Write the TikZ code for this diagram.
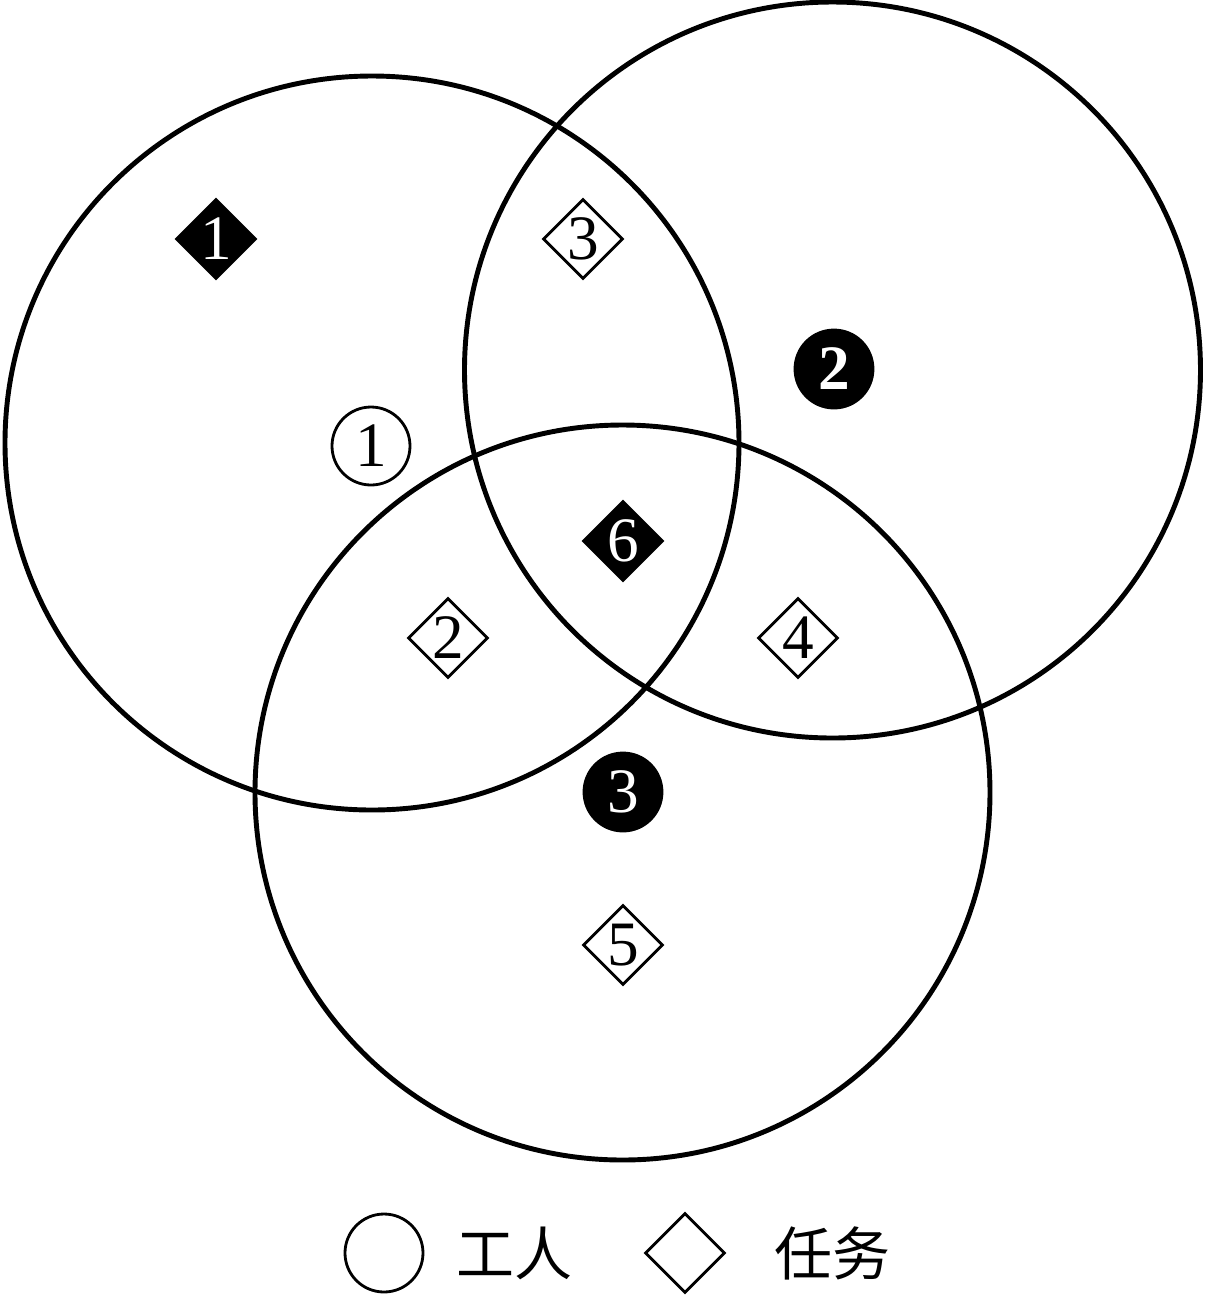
\documentclass[tikz,border=0pt]{standalone}
\usepackage{fontspec}
\setmainfont{Liberation Serif}
\newfontfamily\cjk{Noto Sans CJK SC}
\usepackage{tikz}
\usetikzlibrary{positioning,shapes.geometric}

\begin{document}
\begin{tikzpicture}[x=1cm,y=-1cm,
    every node/.style={font=\fontsize{18pt}{18pt}\selectfont},
    ring/.style={line width=1.4pt},
    wk/.style={inner sep=0pt,minimum size=7.8mm,circle,draw,line width=0.8pt},
    tk/.style={inner sep=0pt,minimum size=8mm,diamond,draw,line width=0.8pt},
    on/.style={fill=black,text=white}]
  \useasboundingbox (0,0) rectangle (12.05,12.95);
  % the three sets
  \draw[ring] (3.72,4.43) circle (3.67);
  \draw[ring] (8.325,3.70) circle (3.68);
  \draw[ring] (6.225,7.925) circle (3.675);
  % workers and tasks
  \node[tk,on](t1) at (2.16,2.39){1};
  \node[tk](t3) at (5.83,2.39){3};
  \node[wk,on](w2) at (8.34,3.69){\textbf{2}};
  \node[wk](w1) at (3.71,4.46){1};
  \node[tk,on](t6) at (6.23,5.41){6};
  \node[tk](t2) at (4.48,6.38){2};
  \node[tk](t4) at (7.98,6.38){4};
  \node[wk,on](w3) at (6.23,7.92){3};
  \node[tk](t5) at (6.23,9.45){5};
  % legend
  \node[wk](lw) at (3.84,12.53){};
  \node[right=0.2cm of lw,font=\fontsize{16.5pt}{16.5pt}\cjk](lwt){工人};
  \node[tk](lt) at (6.85,12.53){};
  \node[right=0.36cm of lt,font=\fontsize{16.5pt}{16.5pt}\cjk](ltt){任务};
\end{tikzpicture}
\end{document}
